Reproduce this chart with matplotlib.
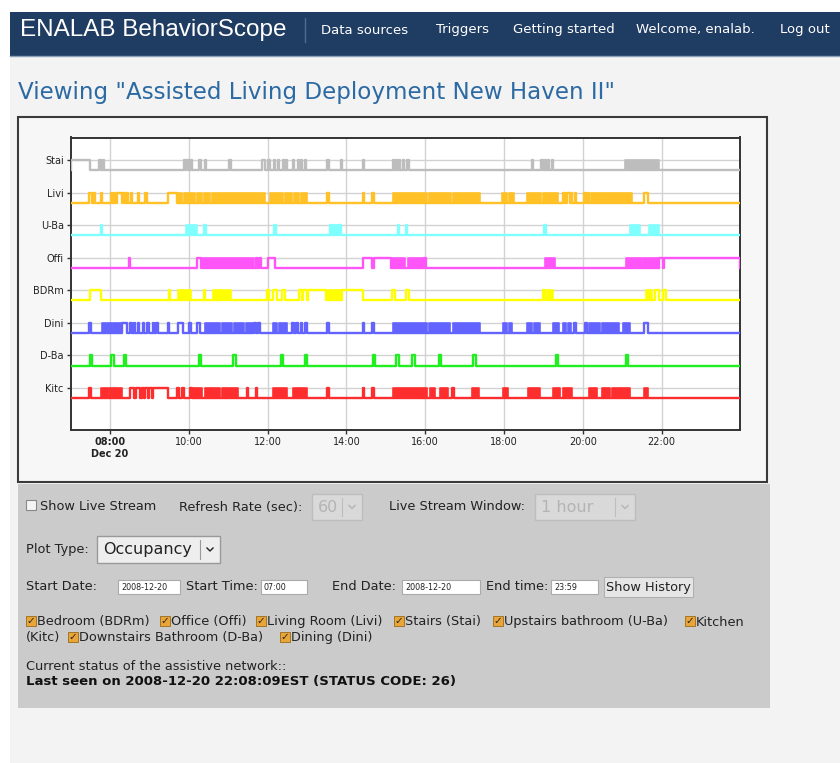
import matplotlib
matplotlib.use('Agg')
import matplotlib.pyplot as plt
from matplotlib.patches import Rectangle

# rooms from bottom row to top row
rooms = ['Kitc', 'D-Ba', 'Dini', 'BDRm', 'Offi', 'U-Ba', 'Livi', 'Stai']
room_colors = ['#ff2e2e', '#1fef1f', '#6363ff', '#ffff00', '#ff55f8', '#80ffff', '#ffc125', '#bdbdbd']

# hours of day (7.0 = 07:00); *_on = sensor occupied, *_busy = rapid on/off bursts
stai_on = [(7.0, 7.48), (7.72, 7.76), (7.81, 7.84), (9.88, 9.91), (9.94, 9.97), (10.0, 10.03), (10.06, 10.09),
           (10.27, 10.30), (10.41, 10.44), (11.03, 11.06), (11.86, 11.93), (12.01, 12.05), (12.15, 12.19),
           (12.26, 12.29), (12.39, 12.42), (12.47, 12.50), (12.64, 12.67), (12.77, 12.80), (12.85, 12.88),
           (12.95, 12.98), (13.52, 13.55), (13.87, 13.90), (14.42, 14.45), (15.19, 15.22), (15.26, 15.29),
           (15.34, 15.37), (15.44, 15.47), (15.55, 15.59), (18.70, 18.73), (18.95, 18.98), (19.03, 19.06),
           (19.11, 19.14), (19.21, 19.24)]
stai_busy = [(21.07, 21.94)]

livi_on = [(7.47, 7.55), (7.60, 7.63), (7.77, 7.80), (8.02, 8.05), (8.09, 8.12), (8.19, 8.30), (8.33, 8.37),
           (8.42, 8.46), (8.53, 8.56), (8.70, 8.73), (8.90, 8.94), (9.46, 9.70), (13.52, 13.56), (14.41, 14.45),
           (14.66, 14.70), (19.50, 19.55), (19.61, 19.67), (19.70, 19.73), (19.80, 19.84), (20.03, 20.07),
           (20.13, 20.17), (21.56, 21.66)]
livi_busy = [(9.73, 9.84), (9.87, 10.17), (10.21, 10.34), (10.38, 10.55), (10.59, 11.72), (11.75, 11.84),
             (11.87, 11.93), (12.06, 12.40), (12.45, 12.62), (12.66, 12.80), (12.84, 12.99), (15.19, 16.05),
             (16.09, 16.66), (16.70, 17.40), (17.95, 18.08), (18.12, 18.25), (18.58, 18.94), (18.98, 19.38),
             (20.22, 20.46), (20.48, 21.24)]

uba_on = [(7.76, 7.80), (10.39, 10.43), (12.17, 12.21), (13.59, 13.64), (13.81, 13.87), (15.30, 15.34),
          (15.51, 15.55), (19.02, 19.06)]
uba_busy = [(9.93, 10.08), (10.11, 10.22), (13.67, 13.78), (21.20, 21.44), (21.69, 21.94)]

offi_on = [(8.48, 8.52), (10.22, 10.32), (11.70, 11.74), (11.79, 11.83), (12.02, 12.20), (14.43, 14.64),
           (14.71, 15.12), (15.98, 16.01), (21.94, 22.03), (22.06, 23.99)]
offi_busy = [(10.34, 11.66), (15.12, 15.50), (15.56, 15.96), (19.05, 19.30), (21.10, 21.50), (21.54, 21.94)]

bdrm_on = [(7.48, 7.78), (9.50, 9.53), (10.39, 10.42), (11.98, 12.04), (12.14, 12.23), (12.36, 12.44),
           (12.80, 12.87), (12.91, 12.99), (13.03, 13.48), (13.88, 14.43), (15.15, 15.23), (15.51, 15.60),
           (18.99, 19.05), (21.84, 21.93), (22.03, 22.12)]
bdrm_busy = [(9.73, 10.06), (10.61, 11.08), (13.48, 13.88), (19.08, 19.25), (21.60, 21.75)]

dini_on = [(7.47, 7.51), (8.30, 8.42), (8.51, 8.55), (8.60, 8.64), (8.70, 8.74), (8.83, 8.87), (8.95, 8.99),
           (9.08, 9.12), (9.17, 9.21), (9.46, 9.50), (9.73, 9.86), (10.01, 10.05), (10.20, 10.28), (11.66, 11.70),
           (11.76, 11.81), (12.61, 12.66), (12.72, 12.78), (12.84, 12.88), (12.94, 12.99), (13.52, 13.56),
           (14.41, 14.45), (14.66, 14.70), (19.78, 19.82), (20.06, 20.10), (21.56, 21.65)]
dini_busy = [(7.79, 8.05), (8.08, 8.30), (10.41, 10.80), (10.84, 11.10), (11.14, 11.40), (11.44, 11.62),
             (12.14, 12.24), (12.28, 12.38), (12.42, 12.49), (15.19, 16.04), (16.10, 16.63), (16.70, 17.39),
             (17.97, 18.08), (18.13, 18.20), (18.58, 18.72), (18.76, 18.91), (19.24, 19.40), (19.49, 19.58),
             (19.62, 19.69), (20.16, 20.44), (20.50, 20.93), (21.03, 21.20)]

dba_on = [(7.48, 7.54), (8.03, 8.09), (8.35, 8.41), (10.25, 10.31), (11.13, 11.19), (12.33, 12.39),
          (12.94, 13.00), (14.67, 14.73), (15.27, 15.33), (15.67, 15.73), (16.35, 16.41), (17.22, 17.28),
          (19.31, 19.37), (21.10, 21.16)]
dba_busy = []

kitc_on = [(7.47, 7.52), (8.50, 8.62), (8.66, 8.76), (8.80, 8.86), (8.90, 8.96), (9.00, 9.06), (9.10, 9.47),
           (9.71, 9.75), (9.84, 9.88), (10.03, 10.07), (11.47, 11.51), (11.70, 11.74), (13.52, 13.56),
           (14.41, 14.45), (14.66, 14.70), (16.69, 16.73)]
kitc_busy = [(7.77, 7.95), (7.98, 8.30), (10.11, 10.33), (10.41, 10.79), (10.84, 11.26), (12.14, 12.49),
             (12.65, 12.99), (15.19, 16.04), (16.12, 16.25), (16.38, 16.59), (17.18, 17.37), (17.97, 18.11),
             (18.62, 18.91), (19.24, 19.42), (19.49, 19.72), (20.17, 20.37), (20.48, 20.69), (20.75, 21.20),
             (21.55, 21.66)]

on_lists = [kitc_on, dba_on, dini_on, bdrm_on, offi_on, uba_on, livi_on, stai_on]
busy_lists = [kitc_busy, dba_busy, dini_busy, bdrm_busy, offi_busy, uba_busy, livi_busy, stai_busy]

t_start, t_end = 7.0, 23.99
tick_hours = [8, 10, 12, 14, 16, 18, 20, 22]
tick_labels = ['08:00\nDec 20', '10:00', '12:00', '14:00', '16:00', '18:00', '20:00', '22:00']

fig = plt.figure(figsize=(8.4, 7.63), dpi=100)
fig.patch.set_facecolor('#f3f3f3')

# page drawn in pixel coordinates
bg = fig.add_axes([0, 0, 1, 1])
bg.set_xlim(0, 840)
bg.set_ylim(763, 0)
bg.axis('off')

bg.add_patch(Rectangle((0, 0), 840, 12, facecolor='white', edgecolor='none'))
bg.add_patch(Rectangle((0, 0), 10, 763, facecolor='white', edgecolor='none'))
bg.add_patch(Rectangle((10, 12), 830, 44, facecolor='#1f3c62', edgecolor='none'))
bg.plot([10, 840], [56, 56], color='#8aa0b8', lw=1)
bg.text(20, 30, 'ENALAB BehaviorScope', color='white', fontsize=17.5, family='Liberation Sans', va='center')
bg.plot([305, 305], [18, 42], color='#4f6b8e', lw=1)
for label, x in [('Data sources', 321), ('Triggers', 436), ('Getting started', 513),
                 ('Welcome, enalab.', 636), ('Log out', 780)]:
    bg.text(x, 30, label, color='white', fontsize=9.5, va='center')

bg.text(18, 92, 'Viewing "Assisted Living Deployment New Haven II"', color='#2c6aa3', fontsize=16.6, va='center')

# chart frame
bg.add_patch(Rectangle((18, 117), 749, 365, facecolor='#f7f7f7', edgecolor='#3a3a3a', lw=1.5))

# control panel
bg.add_patch(Rectangle((18, 484), 752, 224, facecolor='#cbcbcb', edgecolor='none'))
txt = '#222222'


def checkbox(x, y, checked):
    if checked:
        bg.add_patch(Rectangle((x, y - 5), 10, 10, facecolor='#e9a637', edgecolor='#9a6a18', lw=0.6))
        bg.text(x + 5, y, '\u2713', color='#222222', fontsize=7.5, ha='center', va='center', fontweight='bold')
    else:
        bg.add_patch(Rectangle((x, y - 5), 10, 10, facecolor='#f4f4f4', edgecolor='#888888', lw=0.8))


def dropdown(x0, x1, y0, y1, label, size, color, fill, edge):
    bg.add_patch(Rectangle((x0, y0), x1 - x0, y1 - y0, facecolor=fill, edgecolor=edge, lw=1))
    bg.text(x0 + 6, (y0 + y1) / 2, label, color=color, fontsize=size, va='center')
    xd = x1 - 20
    bg.plot([xd, xd], [y0 + 4, y1 - 4], color=edge, lw=0.8)
    xc, yc = x1 - 10, (y0 + y1) / 2
    bg.plot([xc - 3, xc, xc + 3], [yc - 1.5, yc + 1.5, yc - 1.5], color=color, lw=1)


def inputbox(x0, x1, y, label):
    bg.add_patch(Rectangle((x0, y - 7), x1 - x0, 14, facecolor='white', edgecolor='#aaaaaa', lw=0.8))
    bg.text(x0 + 3, y, label, color=txt, fontsize=5.8, va='center')


checkbox(26, 505, False)
bg.text(40, 507, 'Show Live Stream', color=txt, fontsize=9.3, va='center')
bg.text(179, 507, 'Refresh Rate (sec):', color=txt, fontsize=9.3, va='center')
dropdown(312, 362, 494, 520, '60', 11.5, '#b4b4b4', '#d9d9d9', '#bdbdbd')
bg.text(389, 507, 'Live Stream Window:', color=txt, fontsize=9.3, va='center')
dropdown(535, 635, 494, 520, '1 hour', 11.5, '#b4b4b4', '#d9d9d9', '#bdbdbd')

bg.text(26, 550, 'Plot Type:', color=txt, fontsize=9.3, va='center')
dropdown(97, 220, 536, 563, 'Occupancy', 11.5, '#222222', '#eeeeee', '#999999')

bg.text(26, 587, 'Start Date:', color=txt, fontsize=9.3, va='center')
inputbox(118, 180, 587, '2008-12-20')
bg.text(186, 587, 'Start Time:', color=txt, fontsize=9.3, va='center')
inputbox(261, 307, 587, '07:00')
bg.text(332, 587, 'End Date:', color=txt, fontsize=9.3, va='center')
inputbox(402, 480, 587, '2008-12-20')
bg.text(486, 587, 'End time:', color=txt, fontsize=9.3, va='center')
inputbox(551, 598, 587, '23:59')
bg.add_patch(Rectangle((604, 577), 89, 20, facecolor='#e6e6e6', edgecolor='#b0b0b0', lw=0.8))
bg.text(648.5, 587, 'Show History', color=txt, fontsize=9.3, va='center', ha='center')

for label, x, y in [('Bedroom (BDRm)', 26, 621), ('Office (Offi)', 160, 621), ('Living Room (Livi)', 256, 621),
                    ('Stairs (Stai)', 394, 621), ('Upstairs bathroom (U-Ba)', 493, 621), ('Kitchen', 685, 621),
                    ('Downstairs Bathroom (D-Ba)', 68, 637), ('Dining (Dini)', 280, 637)]:
    checkbox(x, y, True)
    bg.text(x + 11, y + 1, label, color=txt, fontsize=9.3, va='center')
bg.text(26, 638, '(Kitc)', color=txt, fontsize=9.3, va='center')

bg.text(26, 667, 'Current status of the assistive network::', color=txt, fontsize=9.3, va='center')
bg.text(26, 681, 'Last seen on 2008-12-20 22:08:09EST (STATUS CODE: 26)', color='#111111', fontsize=9.5,
        va='center', fontweight='bold')

# occupancy chart
ax = fig.add_axes([70.6 / 840, 1 - 430 / 763, (740 - 70.6) / 840, (430 - 137.5) / 763])
ax.set_facecolor('white')
low = 0.31
for i, room in enumerate(rooms):
    xs, ys = [t_start], [i - low]
    for a, b in on_lists[i]:
        xs += [a, a, b, b]
        ys += [i - low, i, i, i - low]
    xs.append(t_end)
    ys.append(i - low)
    ax.plot(xs, ys, color=room_colors[i], lw=1.7, zorder=3)
    for a, b in busy_lists[i]:
        ax.fill_between([a, b], i - low, i, color=room_colors[i], lw=1.2, edgecolor=room_colors[i], zorder=3)

ax.set_xlim(t_start, t_end)
ax.set_ylim(-1.29, 7.69)
ax.set_yticks(range(len(rooms)))
ax.set_yticklabels(rooms, fontsize=7, color='#222222')
ax.set_xticks(tick_hours)
ax.set_xticklabels(tick_labels, fontsize=7, color='#222222')
ax.get_xticklabels()[0].set_fontweight('bold')
ax.tick_params(direction='out', length=3, width=1, color='#333333', pad=2)
ax.grid(True, color='#d2d2d2', lw=1, zorder=0)
ax.set_axisbelow(True)
for s in ax.spines.values():
    s.set_color('#333333')
    s.set_linewidth(1.4)

fig.savefig('out.png', dpi=100, facecolor=fig.get_facecolor())
